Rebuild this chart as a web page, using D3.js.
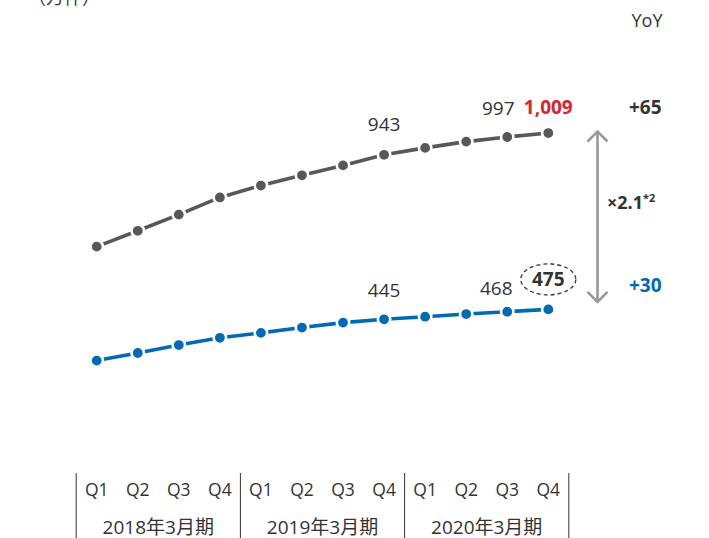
<!DOCTYPE html>
<html><head><meta charset="utf-8">
<script src="https://cdn.jsdelivr.net/npm/d3@7"></script>
<style>
html,body{margin:0;padding:0;background:#fff;}
svg{display:block;font-family:"Open Sans","Noto Sans CJK JP",sans-serif;}
</style></head>
<body>
<svg id="c" width="709" height="538"></svg>
<script>
// ---- data ----
const quarters = ["Q1","Q2","Q3","Q4","Q1","Q2","Q3","Q4","Q1","Q2","Q3","Q4"];
const fiscalYears = ["2018年3月期","2019年3月期","2020年3月期"];
const totalSeries = [665,713,762,814,850,881,911,943,964,983,997,1009];
const blueSeries  = [320,343,367,389,404,420,435,445,453,461,468,475];
const yoyTotal = "+65";
const yoyBlue = "+30";
const ratioText = "×2.1";
const ratioNote = "*2";
const unitText = "（万件）";

// ---- layout ----
const svg = d3.select("#c");
const idx = d3.range(quarters.length);
const x = d3.scalePoint().domain(idx).range([96.7, 548.3]);
const y = d3.scaleLinear().domain([0, 1000]).range([466.3, 466.3 - 330.3]);
const step = x.step();

const GRAY = "#58585a", BLUE = "#006ab6", RED = "#d9232e", TXT = "#333";

svg.append("text").attr("x", 28).attr("y", 4).attr("font-size", 18).attr("fill", TXT).text(unitText);
svg.append("text").attr("x", 647).attr("y", 26.5).attr("text-anchor","middle").attr("font-size", 18).attr("fill", TXT).text("YoY");

function series(vals, color) {
  const line = d3.line().x((d,i)=>x(i)).y(d=>y(d));
  svg.append("path").datum(vals).attr("d", line).attr("fill","none")
     .attr("stroke", color).attr("stroke-width", 3.6);
  svg.append("g").selectAll("circle").data(vals).join("circle")
     .attr("cx",(d,i)=>x(i)).attr("cy",d=>y(d)).attr("r",6.2)
     .attr("fill",color).attr("stroke","#fff").attr("stroke-width",2.6);
}
series(totalSeries, GRAY);
series(blueSeries, BLUE);

// value labels
const fs = 19;
const fmt = d3.format(",");
svg.append("text").attr("x", x(7)).attr("y", y(totalSeries[7]) - 24).attr("text-anchor","middle")
   .attr("font-size", fs).attr("fill", TXT).text(fmt(totalSeries[7]));
svg.append("text").attr("x", x(10) - 9).attr("y", y(totalSeries[10]) - 22).attr("text-anchor","middle")
   .attr("font-size", fs).attr("fill", TXT).text(fmt(totalSeries[10]));
svg.append("text").attr("x", x(11)).attr("y", y(totalSeries[11]) - 19).attr("text-anchor","middle")
   .attr("font-size", fs).attr("font-weight","bold").attr("fill", RED).text(fmt(totalSeries[11]));
svg.append("text").attr("x", x(7)).attr("y", y(blueSeries[7]) - 22).attr("text-anchor","middle")
   .attr("font-size", fs).attr("fill", TXT).text(blueSeries[7]);
svg.append("text").attr("x", x(10) - 11).attr("y", y(blueSeries[10]) - 17).attr("text-anchor","middle")
   .attr("font-size", fs).attr("fill", TXT).text(blueSeries[10]);
const ex = x(11), ey = y(blueSeries[11]) - 30;
svg.append("ellipse").attr("cx", ex).attr("cy", ey).attr("rx", 27.5).attr("ry", 15.5)
   .attr("fill","none").attr("stroke","#333").attr("stroke-width",1.3).attr("stroke-dasharray","4,3");
svg.append("text").attr("x", ex).attr("y", ey + 7).attr("text-anchor","middle")
   .attr("font-size", fs).attr("font-weight","bold").attr("fill", TXT).text(blueSeries[11]);

// double arrow
const ax = 597.5, aTop = y(totalSeries[11]) - 1.5, aBot = y(blueSeries[11]) - 7.5;
const AG = "#999";
svg.append("line").attr("x1",ax).attr("x2",ax).attr("y1",aTop+1).attr("y2",aBot-1)
   .attr("stroke",AG).attr("stroke-width",2.6);
svg.append("path").attr("d",`M${ax-10},${aTop+10}L${ax},${aTop}L${ax+10},${aTop+10}`)
   .attr("fill","none").attr("stroke",AG).attr("stroke-width",2.6);
svg.append("path").attr("d",`M${ax-10},${aBot-10}L${ax},${aBot}L${ax+10},${aBot-10}`)
   .attr("fill","none").attr("stroke",AG).attr("stroke-width",2.6);
const rt = svg.append("text").attr("x", 607).attr("y", 208.5).attr("font-size", 18)
   .attr("font-weight","bold").attr("fill", TXT);
rt.append("tspan").text(ratioText);
rt.append("tspan").attr("font-size", 11).attr("dy", -7).text(ratioNote);

// YoY
svg.append("text").attr("x", 629).attr("y", 113.5).attr("font-size", 19).attr("font-weight","bold")
   .attr("fill", TXT).text(yoyTotal);
svg.append("text").attr("x", 629).attr("y", 292).attr("font-size", 19).attr("font-weight","bold")
   .attr("fill", BLUE).text(yoyBlue);

// category axis
const ax0 = svg.append("g");
ax0.selectAll("text.q").data(quarters).join("text").attr("class","q")
   .attr("x",(d,i)=>x(i)).attr("y",496).attr("text-anchor","middle")
   .attr("font-size",17.5).attr("fill",TXT).text(d=>d);
const seps = d3.range(fiscalYears.length + 1).map(k => x(0) - step/2 + k*4*step);
ax0.selectAll("line").data(seps).join("line")
   .attr("x1",d=>d).attr("x2",d=>d).attr("y1",473).attr("y2",538)
   .attr("stroke","#333").attr("stroke-width",1);
ax0.selectAll("text.fy").data(fiscalYears).join("text").attr("class","fy")
   .attr("x",(d,k)=>(x(k*4)+x(k*4+3))/2).attr("y",533.5).attr("text-anchor","middle")
   .attr("font-size",19).attr("fill",TXT).text(d=>d);
</script>
</body></html>
